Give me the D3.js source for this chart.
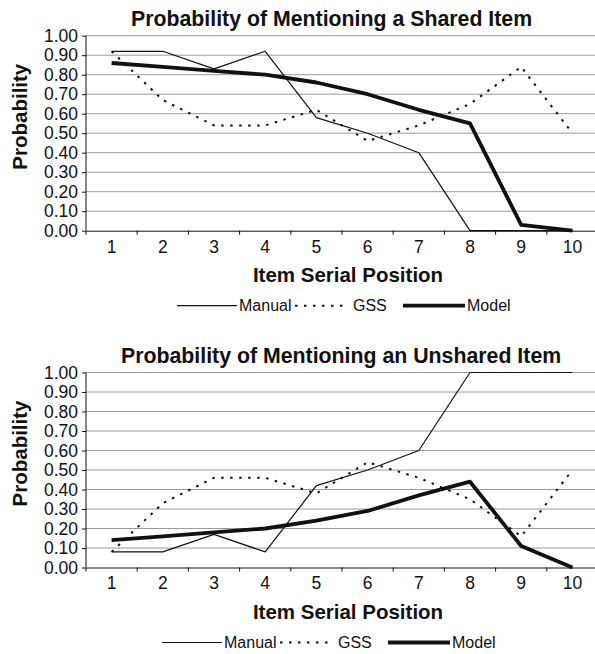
<!DOCTYPE html>
<html>
<head>
<meta charset="utf-8">
<script src="https://cdn.jsdelivr.net/npm/d3@7"></script>
<style>
  body { margin: 0; background: #fff; }
  svg { display: block; }
  text { font-family: "Liberation Sans", Arial, sans-serif; fill: #111; }
</style>
</head>
<body>
<div id="chart"></div>
<script>
// data
var positions = [1, 2, 3, 4, 5, 6, 7, 8, 9, 10];
var yTicks = [0, 0.1, 0.2, 0.3, 0.4, 0.5, 0.6, 0.7, 0.8, 0.9, 1.0];

var sharedManual = [0.92, 0.92, 0.83, 0.92, 0.58, 0.50, 0.40, 0.00, 0.00, 0.00];
var sharedGSS    = [0.92, 0.67, 0.54, 0.54, 0.62, 0.46, 0.54, 0.65, 0.84, 0.50];
var sharedModel  = [0.86, 0.84, 0.82, 0.80, 0.76, 0.70, 0.62, 0.55, 0.03, 0.00];

var unsharedManual = [0.08, 0.08, 0.17, 0.08, 0.42, 0.50, 0.60, 1.00, 1.00, 1.00];
var unsharedGSS    = [0.08, 0.33, 0.46, 0.46, 0.38, 0.54, 0.46, 0.35, 0.16, 0.50];
var unsharedModel  = [0.14, 0.16, 0.18, 0.20, 0.24, 0.29, 0.37, 0.44, 0.11, 0.00];

var seriesNames = ["Manual", "GSS", "Model"];

var svg = d3.select("#chart")
    .append("svg")
    .attr("width", 595)
    .attr("height", 654);

// line looks for each series
var styles = {
    Manual: { width: 1.2, dash: null },
    GSS:    { width: 2, dash: "2.5,6.5" },
    Model:  { width: 3.8, dash: null }
};

// legend pieces: line start/end and text start, relative to legend x
var legendLayout = {
    Manual: { a: 0, b: 60, t: 62 },
    GSS:    { a: 118, b: 172, t: 176 },
    Model:  { a: 226, b: 288, t: 290 }
};

var x = d3.scaleBand().domain(positions).range([86, 598]);

function drawPanel(top, title, titleX, manual, gss, model, legendX) {
    var y = d3.scaleLinear().domain([0, 1]).range([top + 195, top]);
    var g = svg.append("g");

    // gridlines
    g.selectAll(".grid")
        .data(yTicks.slice(1))
        .enter().append("line")
        .attr("x1", 86)
        .attr("x2", 598)
        .attr("y1", function(d) { return y(d); })
        .attr("y2", function(d) { return y(d); })
        .style("stroke", "#9a9a9a")
        .style("stroke-width", 1);

    // y axis
    var yAxis = d3.axisLeft(y)
        .tickValues(yTicks)
        .tickFormat(d3.format(".2f"))
        .tickSize(4)
        .tickPadding(4);
    var ya = g.append("g").attr("transform", "translate(86,0)").call(yAxis);
    ya.select(".domain").attr("d", "M0," + y(0) + "V" + y(1)).style("stroke", "#111");
    ya.selectAll(".tick line").style("stroke", "#111");
    ya.selectAll("text").style("font-size", "17.5px").attr("fill", "#111");

    // x axis labels at band centres
    var xAxis = d3.axisBottom(x).tickSize(0).tickPadding(9.5);
    var xa = g.append("g").attr("transform", "translate(0," + y(0) + ")").call(xAxis);
    xa.select(".domain").style("stroke", "#111");
    xa.selectAll("text").style("font-size", "17.5px").attr("fill", "#111");

    // x tick marks on band edges
    var edges = positions.map(function(p) { return x(p); }).concat([x(10) + x.bandwidth()]);
    g.selectAll(".xtick")
        .data(edges)
        .enter().append("line")
        .attr("x1", function(d) { return d; })
        .attr("x2", function(d) { return d; })
        .attr("y1", y(0))
        .attr("y2", y(0) + 4)
        .style("stroke", "#111");

    // series lines
    var line = d3.line()
        .x(function(d, i) { return x(positions[i]) + x.bandwidth() / 2; })
        .y(function(d) { return y(d); });

    [[manual, "Manual"], [gss, "GSS"], [model, "Model"]].forEach(function(s) {
        g.append("path")
            .datum(s[0])
            .attr("d", line)
            .style("fill", "none")
            .style("stroke", "#111")
            .style("stroke-width", styles[s[1]].width)
            .style("stroke-dasharray", styles[s[1]].dash)
            .style("stroke-linejoin", "round");
    });

    // title
    g.append("text")
        .attr("x", titleX)
        .attr("y", top - 9.7)
        .style("font-size", "21.3px")
        .style("font-weight", "bold")
        .text(title);

    // axis titles
    g.append("text")
        .attr("transform", "translate(27," + (top + 81) + ") rotate(-90)")
        .attr("text-anchor", "middle")
        .style("font-size", "20.5px")
        .style("font-weight", "bold")
        .text("Probability");

    g.append("text")
        .attr("x", 348)
        .attr("y", top + 246.5)
        .attr("text-anchor", "middle")
        .style("font-size", "20.5px")
        .style("font-weight", "bold")
        .text("Item Serial Position");

    // legend
    var ly = top + 275;
    seriesNames.forEach(function(name) {
        var p = legendLayout[name];
        g.append("line")
            .attr("x1", legendX + p.a)
            .attr("x2", legendX + p.b)
            .attr("y1", ly - 5)
            .attr("y2", ly - 5)
            .style("stroke", "#111")
            .style("stroke-width", styles[name].width)
            .style("stroke-dasharray", styles[name].dash);
        g.append("text")
            .attr("x", legendX + p.t)
            .attr("y", ly)
            .style("font-size", "16px")
            .text(name);
    });
}

drawPanel(35.7, "Probability of Mentioning a Shared Item", 131, sharedManual, sharedGSS, sharedModel, 177);
drawPanel(372.5, "Probability of Mentioning an Unshared Item", 121, unsharedManual, unsharedGSS, unsharedModel, 162);
</script>
</body>
</html>
